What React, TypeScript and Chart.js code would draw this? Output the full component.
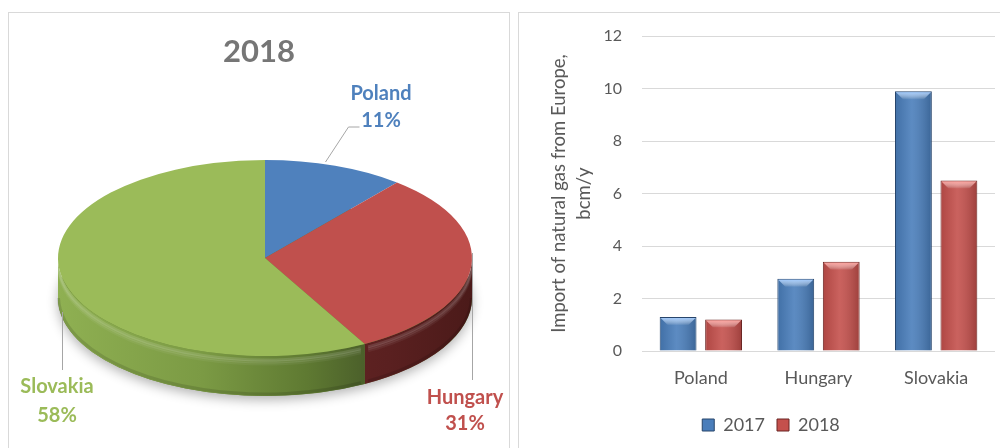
import React, { useEffect, useRef } from 'react';
import { Chart, registerables } from 'chart.js';
Chart.register(...registerables);

// ---- data ----
const pieLabels = ['Poland', 'Hungary', 'Slovakia'];
const pieShares2018 = [11, 31, 58];
const pieTitle = '2018';
const barCategories = ['Poland', 'Hungary', 'Slovakia'];
const seriesNames = ['2017', '2018'];
const imports2017 = [1.3, 2.75, 9.9];
const imports2018 = [1.2, 3.4, 6.5];
const yMin = 0;
const yMax = 12;
const yStep = 2;
const yTitle = ['Import of natural gas from Europe,', 'bcm/y'];

// ---- styles ----
const FONT = "Lato, 'Open Sans', 'Noto Sans', sans-serif";
const pieColors = ['#4F81BD', '#C0504D', '#9BBB59'];
const pieLabelColors = ['#4F81BD', '#C0504D', '#9BBB59'];
const sideStops: Array<Array<[number, string]>> = [
  [[0, '#3b6394'], [1, '#2a4a70']],
  [[0.6, '#642524'], [0.8, '#5a2020'], [1, '#4b1a19']],
  [[0, '#8fb052'], [0.35, '#7b9a44'], [0.6, '#5f7a32'], [0.8, '#435527'], [1, '#34421b']],
];
const barFill = ['#4a7ebb', '#c4504c'];
const barBorder = ['#26446b', '#6a2422'];
const bevelLight = ['rgba(165,205,255,0.95)', 'rgba(255,165,160,0.95)'];
const TEXT_GRAY = '#595959';

const ELLIPSE = { cx: 256, cy: 245, rx: 207, ry: 98, depth: 40 };
const labelPos = [
  { x: 372, y1: 87, y2: 114 },
  { x: 456, y1: 391, y2: 417 },
  { x: 48, y1: 380, y2: 409 },
];
const leaderLines = [
  [[316, 149], [339, 114], [350, 114]],
  [[463, 240], [463, 367]],
  [[53, 299], [53, 357]],
];

const pie3d = {
  id: 'pie3d',
  beforeDatasetsDraw(chart: any) {
    const ctx = chart.ctx as CanvasRenderingContext2D;
    const meta = chart.getDatasetMeta(0);
    const { cx, cy, rx, ry, depth } = ELLIPSE;
    ctx.save();
    // soft shadow under the pie
    ctx.save();
    ctx.shadowColor = 'rgba(0,0,0,0.30)';
    ctx.shadowBlur = 12;
    ctx.shadowOffsetY = 4;
    ctx.fillStyle = '#5f7a32';
    ctx.beginPath();
    ctx.ellipse(cx, cy + depth, rx, ry, 0, 0, Math.PI * 2);
    ctx.fill();
    ctx.restore();
    // sides
    meta.data.forEach((arc: any, i: number) => {
      const { startAngle, endAngle } = arc.getProps(['startAngle', 'endAngle'], true);
      const lo = Math.max(startAngle, 0);
      const hi = Math.min(endAngle, Math.PI);
      if (hi <= lo) return;
      const g = ctx.createLinearGradient(cx - rx, 0, cx + rx, 0);
      sideStops[i].forEach(([o, c]) => g.addColorStop(o, c));
      ctx.beginPath();
      ctx.ellipse(cx, cy, rx, ry, 0, lo, hi);
      ctx.ellipse(cx, cy + depth, rx, ry, 0, hi, lo, true);
      ctx.closePath();
      ctx.fillStyle = g;
      ctx.fill();
      // soft bevel highlight just under the rim
      for (let k = 0; k < 3; k++) {
        ctx.beginPath();
        ctx.ellipse(cx, cy + 4 + k * 2, rx - 0.5, ry, 0, lo + 0.02, hi - 0.02);
        ctx.strokeStyle = `rgba(255,255,255,${0.12 - k * 0.035})`;
        ctx.lineWidth = 3;
        ctx.stroke();
      }
      // darker bottom edge
      ctx.beginPath();
      ctx.ellipse(cx, cy + depth - 2, rx - 0.5, ry, 0, lo + 0.02, hi - 0.02);
      ctx.strokeStyle = 'rgba(0,0,0,0.12)';
      ctx.lineWidth = 3;
      ctx.stroke();
    });
    // squash the top face into an ellipse
    const first = meta.data[0];
    if (first) {
      const { x, y, outerRadius } = first.getProps(['x', 'y', 'outerRadius'], true);
      ctx.translate(cx, cy);
      ctx.scale(rx / outerRadius, ry / outerRadius);
      ctx.translate(-x, -y);
    }
  },
  afterDatasetsDraw(chart: any) {
    chart.ctx.restore();
  },
  afterDraw(chart: any) {
    const ctx = chart.ctx as CanvasRenderingContext2D;
    ctx.save();
    ctx.strokeStyle = '#a6a6a6';
    ctx.lineWidth = 1;
    leaderLines.forEach((pts) => {
      ctx.beginPath();
      pts.forEach(([px, py], k) => (k === 0 ? ctx.moveTo(px + 0.5, py) : ctx.lineTo(px + 0.5, py)));
      ctx.stroke();
    });
    ctx.font = `bold 20px ${FONT}`;
    ctx.textAlign = 'center';
    ctx.textBaseline = 'alphabetic';
    pieLabels.forEach((lab, i) => {
      ctx.fillStyle = pieLabelColors[i];
      ctx.fillText(lab, labelPos[i].x, labelPos[i].y1);
      ctx.fillText(`${pieShares2018[i]}%`, labelPos[i].x, labelPos[i].y2);
    });
    ctx.restore();
  },
};

const barBevel = {
  id: 'barBevel',
  afterDatasetsDraw(chart: any) {
    const ctx = chart.ctx as CanvasRenderingContext2D;
    ctx.save();
    chart.data.datasets.forEach((_ds: any, di: number) => {
      const meta = chart.getDatasetMeta(di);
      meta.data.forEach((el: any) => {
        const { x, y, base, width } = el.getProps(['x', 'y', 'base', 'width'], true);
        const l = x - width / 2 + 1;
        const r = x + width / 2 - 1;
        const t = y + 1;
        const b = base;
        const g = ctx.createLinearGradient(l, 0, r, 0);
        g.addColorStop(0, 'rgba(0,0,0,0.10)');
        g.addColorStop(0.45, 'rgba(255,255,255,0.10)');
        g.addColorStop(1, 'rgba(0,0,0,0.18)');
        ctx.fillStyle = g;
        ctx.fillRect(l, t, r - l, b - t);
        const bv = Math.min(7, (b - t) / 2);
        const tg = ctx.createLinearGradient(0, t, 0, t + bv);
        tg.addColorStop(0, bevelLight[di]);
        tg.addColorStop(1, 'rgba(255,255,255,0.05)');
        ctx.beginPath();
        ctx.moveTo(l, t);
        ctx.lineTo(r, t);
        ctx.lineTo(r - bv, t + bv);
        ctx.lineTo(l + bv, t + bv);
        ctx.closePath();
        ctx.fillStyle = tg;
        ctx.fill();
      });
    });
    ctx.restore();
  },
};

export default function App() {
  const pieRef = useRef<HTMLCanvasElement>(null);
  const barRef = useRef<HTMLCanvasElement>(null);

  useEffect(() => {
    Chart.defaults.font.family = FONT;
    const pie = new Chart(pieRef.current!, {
      type: 'pie',
      data: {
        labels: pieLabels,
        datasets: [
          {
            data: pieShares2018,
            backgroundColor: pieColors,
            borderWidth: 0,
          },
        ],
      },
      options: {
        animation: false,
        responsive: false,
        events: [],
        plugins: {
          legend: { display: false },
          tooltip: { enabled: false },
          title: {
            display: true,
            text: pieTitle,
            color: '#767676',
            font: { size: 31, weight: 'bold', family: FONT },
            padding: { top: 20, bottom: 10 },
          },
        },
      },
      plugins: [pie3d],
    } as any);

    const bar = new Chart(barRef.current!, {
      type: 'bar',
      data: {
        labels: barCategories,
        datasets: [
          {
            label: seriesNames[0],
            data: imports2017,
            backgroundColor: barFill[0],
            borderColor: barBorder[0],
            borderWidth: 1,
            categoryPercentage: 0.773,
            barPercentage: 0.81,
          },
          {
            label: seriesNames[1],
            data: imports2018,
            backgroundColor: barFill[1],
            borderColor: barBorder[1],
            borderWidth: 1,
            categoryPercentage: 0.773,
            barPercentage: 0.81,
          },
        ],
      },
      options: {
        animation: false,
        responsive: false,
        events: [],
        layout: { padding: { top: 23, right: 13, bottom: 0, left: 28 } },
        scales: {
          x: {
            grid: { display: false },
            border: { display: false },
            ticks: { color: TEXT_GRAY, font: { size: 18 }, padding: 8 },
            afterFit(s: any) {
              s.height = 53;
            },
          },
          y: {
            min: yMin,
            max: yMax,
            ticks: { stepSize: yStep, color: TEXT_GRAY, font: { size: 16 }, padding: 0 },
            grid: {
              color: '#d9d9d9',
              drawTicks: true,
              tickLength: 20,
              tickColor: 'rgba(0,0,0,0)',
              lineWidth: 1,
            },
            border: { display: false },
            title: {
              display: true,
              text: yTitle,
              color: TEXT_GRAY,
              font: { size: 18.5, lineHeight: 1.35 },
              padding: { top: 0, bottom: 0 },
            },
            afterFit(s: any) {
              s.width = 95;
            },
          },
        },
        plugins: {
          legend: {
            position: 'bottom',
            labels: {
              boxWidth: 12,
              boxHeight: 12,
              color: TEXT_GRAY,
              font: { size: 18 },
              padding: 12,
            },
          },
          tooltip: { enabled: false },
        },
      },
      plugins: [barBevel],
    } as any);

    return () => {
      pie.destroy();
      bar.destroy();
    };
  }, []);

  return (
    <div style={{ position: 'relative', width: 1000, height: 440, overflow: 'hidden' }}>
      <div
        style={{
          position: 'absolute',
          left: 0,
          top: 4,
          width: 502,
          height: 450,
          border: '1px solid #d9d9d9',
          boxSizing: 'border-box',
        }}
      >
        <canvas ref={pieRef} width={500} height={434} style={{ display: 'block' }} />
      </div>
      <div
        style={{
          position: 'absolute',
          left: 510,
          top: 4,
          width: 490,
          height: 450,
          borderTop: '1px solid #d9d9d9',
          borderLeft: '1px solid #d9d9d9',
          boxSizing: 'border-box',
          overflow: 'hidden',
        }}
      >
        <canvas ref={barRef} width={489} height={431} style={{ display: 'block' }} />
      </div>
    </div>
  );
}
